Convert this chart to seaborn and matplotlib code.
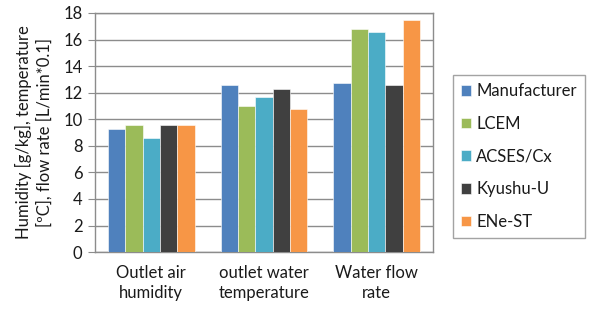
import matplotlib
matplotlib.use("Agg")
from matplotlib import pyplot as plt
import pandas as pd
import seaborn as sns

# categories and series
categories = ["Outlet air\nhumidity", "outlet water\ntemperature", "Water flow\nrate"]
manufacturer = [9.3, 12.6, 12.7]
lcem = [9.6, 11.0, 16.8]
acses = [8.6, 11.7, 16.6]
kyushu = [9.6, 12.3, 12.6]
ene_st = [9.6, 10.8, 17.5]

series = {
    "Manufacturer": manufacturer,
    "LCEM": lcem,
    "ACSES/Cx": acses,
    "Kyushu-U": kyushu,
    "ENe-ST": ene_st,
}
colors = ["#4F81BD", "#9BBB59", "#4BACC6", "#404040", "#F79646"]

rows = []
for name, vals in series.items():
    for cat, v in zip(categories, vals):
        rows.append({"category": cat, "source": name, "value": v})
df = pd.DataFrame(rows)

sns.set_style("white")
plt.rcParams["font.family"] = ["Lato", "DejaVu Sans"]

fig = plt.figure(figsize=(5.9, 3.09), dpi=100)
ax = fig.add_axes([0.161, 0.184, 0.573, 0.774])

sns.barplot(data=df, x="category", y="value", hue="source", palette=colors,
            saturation=1, width=0.77, gap=0, edgecolor="white", linewidth=0.4,
            errorbar=None, ax=ax, zorder=3)

ax.set_ylim(0, 18)
ax.set_xlim(-0.5, 2.5)
ax.set_yticks(range(0, 19, 2))
ax.yaxis.grid(True, color="#8c8c8c", linewidth=1.0, zorder=0)
ax.set_axisbelow(True)

for side in ["left", "bottom", "right", "top"]:
    ax.spines[side].set_color("#8c8c8c")
    ax.spines[side].set_linewidth(1.0)

ax.set_xticks([0, 1, 2])
ax.set_xticklabels(categories, fontsize=12, color="#1a1a1a", linespacing=1.3)
ax.set_xticks([-0.5, 0.5, 1.5, 2.5], minor=True)
ax.tick_params(axis="x", which="major", length=0, pad=9)
ax.tick_params(axis="x", which="minor", length=5, color="#8c8c8c", direction="out")
ax.tick_params(axis="y", length=5, color="#8c8c8c", direction="out", labelsize=12,
               labelcolor="#1a1a1a", left=True, pad=4)

ax.set_xlabel("")
ax.set_ylabel("Humidity [g/kg], temperature\n[ºC], flow rate [L/min*0.1]",
              fontsize=12, color="#1a1a1a", linespacing=1.25, labelpad=8)

leg = ax.legend(loc="center left", bbox_to_anchor=(1.059, 0.40), frameon=True,
                fancybox=False, edgecolor="#8c8c8c", fontsize=12,
                handlelength=0.6, handleheight=0.6, handletextpad=0.3,
                labelspacing=1.0, borderpad=0.5, borderaxespad=0)
leg.get_frame().set_linewidth(1.0)
for t in leg.get_texts():
    t.set_color("#1a1a1a")

fig.savefig("out.png", dpi=100)
